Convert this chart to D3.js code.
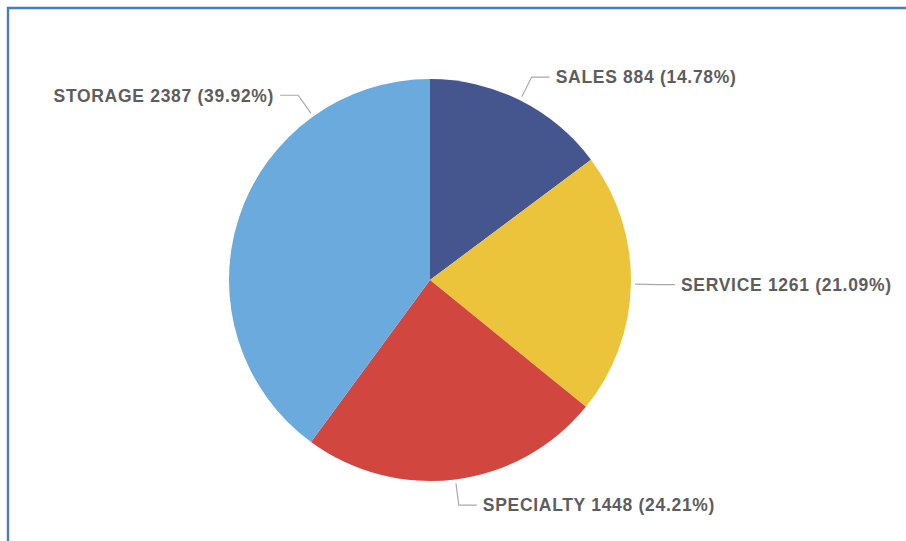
<!DOCTYPE html>
<html>
<head>
<meta charset="utf-8">
<script src="https://cdn.jsdelivr.net/npm/d3@7"></script>
<style>
  html, body { margin: 0; padding: 0; background: #ffffff; }
  svg { display: block; }
  .lbl { font-family: "Liberation Sans", "DejaVu Sans", sans-serif; font-weight: bold; font-size: 17.5px; fill: #5d5d5d; letter-spacing: 0.7px; }
</style>
</head>
<body>
<svg id="chart" width="906" height="541"></svg>
<script>
// Department counts, in slice order clockwise from 12 o'clock
const categories = ["SALES", "SERVICE", "SPECIALTY", "STORAGE"];
const counts = [884, 1261, 1448, 2387];
const percents = ["14.78%", "21.09%", "24.21%", "39.92%"];
const colors = ["#45568e", "#ebc43c", "#d1463f", "#6aaadc"];

const W = 906, H = 541;
const cx = 430, cy = 280, radius = 201;

const svg = d3.select("#chart");

// panel frame (top and left edges)
svg.append("path")
  .attr("d", `M8,${H} L8,8 L${W},8`)
  .attr("fill", "none")
  .attr("stroke", "#4a7cc4")
  .attr("stroke-width", 2.4);

const rows = categories.map((c, i) => ({ name: c, value: counts[i], pct: percents[i], color: colors[i] }));

const pie = d3.pie().value(d => d.value).sort(null);
const arcs = pie(rows);
const arc = d3.arc().innerRadius(0).outerRadius(radius);

const g = svg.append("g").attr("transform", `translate(${cx},${cy})`);

g.selectAll("path.slice")
  .data(arcs)
  .join("path")
  .attr("class", "slice")
  .attr("d", arc)
  .attr("fill", d => d.data.color);

// label placement: leader leaves the slice near its middle angle;
// the large left slice gets its label nudged upward to clear the top
const nudge = { STORAGE: -0.62 };
const startR = radius + 4, bendR = radius + 26, run = 18, gap = 6;

function polar(a, r) { return [Math.sin(a) * r, -Math.cos(a) * r]; }

arcs.forEach(d => {
  let a = (d.startAngle + d.endAngle) / 2;
  if (nudge[d.data.name] !== undefined) a = 2 * Math.PI + nudge[d.data.name];
  const p0 = polar(a, startR);
  const p1 = polar(a, bendR);
  const right = Math.sin(a) >= 0;
  const p2 = [p1[0] + (right ? run : -run), p1[1]];
  g.append("polyline")
    .attr("points", [p0, p1, p2].map(p => p.join(",")).join(" "))
    .attr("fill", "none")
    .attr("stroke", "#a9a9a9")
    .attr("stroke-width", 1.2);
  g.append("text")
    .attr("class", "lbl")
    .attr("x", p2[0] + (right ? gap : -gap))
    .attr("y", p2[1])
    .attr("dy", "0.36em")
    .attr("text-anchor", right ? "start" : "end")
    .text(`${d.data.name} ${d.data.value} (${d.data.pct})`);
});
</script>
</body>
</html>
